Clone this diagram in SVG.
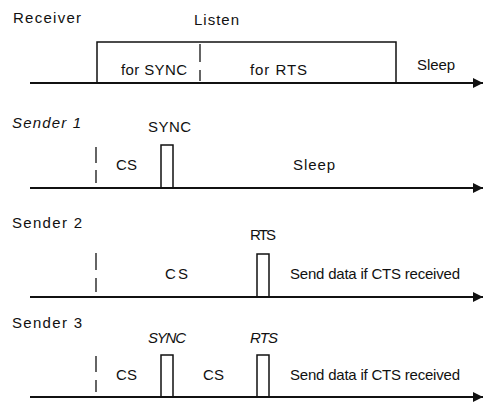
<svg xmlns="http://www.w3.org/2000/svg" width="484" height="403" viewBox="0 0 484 403">
<defs>
<style>
text{font-family:"Liberation Sans",Arial,sans-serif;font-size:15px;fill:#111}
.it{font-style:italic}
.axis{stroke:#111;stroke-width:2;fill:none}
.pulse{stroke:#111;stroke-width:1.5;fill:none}
.dash{stroke:#111;stroke-width:1.3;fill:none}
</style>
<marker id="arr" viewBox="0 0 10 10" refX="10" refY="5" markerWidth="5" markerHeight="5" orient="auto" markerUnits="strokeWidth">
<path d="M0,0 L10,5 L0,10 Z" fill="#111"/>
</marker>
</defs>
<rect width="484" height="403" fill="#fff"/>

<g id="connectors">
<line class="axis" x1="30" y1="83" x2="483" y2="83" marker-end="url(#arr)"/>
<line class="axis" x1="30" y1="188" x2="483" y2="188" marker-end="url(#arr)"/>
<line class="axis" x1="30" y1="297" x2="483" y2="297" marker-end="url(#arr)"/>
<line class="axis" x1="30" y1="397" x2="483" y2="397" marker-end="url(#arr)"/>
</g>

<g id="receiver">
<text x="13" y="23" textLength="68" lengthAdjust="spacing">Receiver</text>
<text x="194" y="25" textLength="45" lengthAdjust="spacing">Listen</text>
<polyline class="pulse" points="97,83 97,42 396,42 396,83"/>
<line class="dash" x1="200" y1="44" x2="200" y2="62"/>
<line class="dash" x1="200" y1="70" x2="200" y2="81"/>
<text x="121" y="75" textLength="66" lengthAdjust="spacing">for SYNC</text>
<text x="250" y="75" textLength="57" lengthAdjust="spacing">for RTS</text>
<text x="417" y="70" textLength="38" lengthAdjust="spacing">Sleep</text>
</g>

<g id="sender1">
<text class="it" x="12" y="128" textLength="69" lengthAdjust="spacing">Sender 1</text>
<text x="148" y="132" textLength="43" lengthAdjust="spacing">SYNC</text>
<line class="dash" x1="96" y1="147" x2="96" y2="163"/>
<line class="dash" x1="96" y1="170" x2="96" y2="183"/>
<text x="116" y="170" textLength="21" lengthAdjust="spacing">CS</text>
<polyline class="pulse" points="161,188 161,145 173,145 173,188"/>
<text x="293" y="170" textLength="42" lengthAdjust="spacing">Sleep</text>
</g>

<g id="sender2">
<text x="12" y="228" textLength="70" lengthAdjust="spacing">Sender 2</text>
<text x="250" y="240" textLength="26" lengthAdjust="spacing">RTS</text>
<line class="dash" x1="96" y1="253" x2="96" y2="270"/>
<line class="dash" x1="96" y1="278" x2="96" y2="292"/>
<text x="165" y="279" textLength="23" lengthAdjust="spacing">CS</text>
<polyline class="pulse" points="257,297 257,254 269,254 269,297"/>
<text x="290" y="279" textLength="170" lengthAdjust="spacing">Send data if CTS received</text>
</g>

<g id="sender3">
<text x="12" y="328" textLength="70" lengthAdjust="spacing">Sender 3</text>
<text class="it" x="148" y="343" textLength="38" lengthAdjust="spacing">SYNC</text>
<text class="it" x="250" y="343" textLength="28" lengthAdjust="spacing">RTS</text>
<line class="dash" x1="96" y1="356" x2="96" y2="372"/>
<line class="dash" x1="96" y1="380" x2="96" y2="392"/>
<text x="116" y="380" textLength="21" lengthAdjust="spacing">CS</text>
<polyline class="pulse" points="161,397 161,355 173,355 173,397"/>
<text x="203" y="380" textLength="21" lengthAdjust="spacing">CS</text>
<polyline class="pulse" points="257,397 257,355 269,355 269,397"/>
<text x="290" y="380" textLength="170" lengthAdjust="spacing">Send data if CTS received</text>
</g>
</svg>
